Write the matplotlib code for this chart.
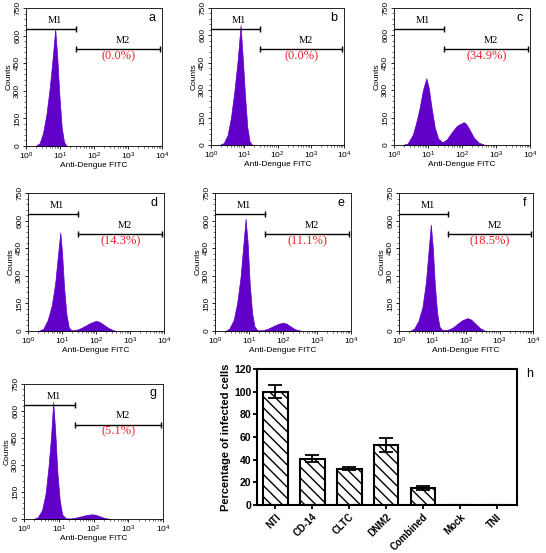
import numpy as np
import matplotlib
matplotlib.use("Agg")
import matplotlib.pyplot as plt
from matplotlib.ticker import AutoMinorLocator, LogLocator, NullFormatter

plt.rcParams["font.family"] = ["Liberation Sans", "DejaVu Sans"]
plt.rcParams["hatch.linewidth"] = 1.0

W, H = 546, 553

# histogram shapes, log10(FITC) vs counts
hist_x = {
    "a": [0.28, 0.40, 0.50, 0.60, 0.70, 0.78, 0.86, 0.92, 0.98, 1.05, 1.12, 1.20],
    "b": [0.25, 0.38, 0.50, 0.60, 0.70, 0.80, 0.89, 0.95, 1.02, 1.09, 1.16, 1.24],
    "c": [0.25, 0.40, 0.55, 0.65, 0.75, 0.85, 0.95, 1.02, 1.10, 1.20, 1.30, 1.42,
          1.55, 1.70, 1.85, 1.95, 2.05, 2.12, 2.22, 2.35, 2.50, 2.68],
    "d": [0.30, 0.45, 0.58, 0.70, 0.80, 0.88, 0.95, 1.00, 1.06, 1.13, 1.20, 1.28,
          1.40, 1.55, 1.70, 1.85, 2.00, 2.10, 2.22, 2.35, 2.50, 2.60],
    "e": [0.30, 0.42, 0.55, 0.65, 0.75, 0.83, 0.90, 0.96, 1.02, 1.09, 1.16, 1.25,
          1.40, 1.55, 1.70, 1.85, 2.00, 2.10, 2.22, 2.35, 2.55],
    "f": [0.32, 0.45, 0.58, 0.70, 0.80, 0.88, 0.95, 1.01, 1.07, 1.14, 1.21, 1.30,
          1.45, 1.60, 1.75, 1.90, 2.05, 2.15, 2.28, 2.42, 2.58],
    "g": [0.28, 0.40, 0.52, 0.62, 0.70, 0.78, 0.84, 0.90, 0.96, 1.03, 1.10, 1.20,
          1.35, 1.50, 1.65, 1.80, 1.95, 2.05, 2.18, 2.32, 2.48],
}
hist_y = {
    "a": [0, 15, 70, 170, 320, 470, 635, 480, 280, 100, 20, 0],
    "b": [0, 10, 55, 150, 290, 460, 655, 490, 280, 100, 20, 0],
    "c": [0, 8, 55, 120, 200, 300, 365, 315, 210, 95, 35, 15,
          30, 70, 105, 115, 125, 115, 85, 40, 12, 0],
    "d": [0, 12, 60, 140, 260, 410, 535, 430, 240, 90, 20, 4,
          5, 15, 30, 45, 55, 50, 35, 18, 5, 0],
    "e": [0, 12, 60, 150, 290, 460, 610, 480, 260, 100, 25, 4,
          4, 12, 25, 38, 45, 40, 25, 10, 0],
    "f": [0, 12, 55, 130, 260, 430, 578, 450, 250, 95, 22, 5,
          6, 18, 40, 60, 70, 62, 40, 15, 0],
    "g": [0, 10, 50, 140, 280, 460, 650, 480, 260, 100, 25, 4,
          3, 8, 15, 22, 26, 24, 15, 6, 0],
}
m2_pct = {"a": "(0.0%)", "b": "(0.0%)", "c": "(34.9%)", "d": "(14.3%)",
          "e": "(11.1%)", "f": "(18.5%)", "g": "(5.1%)"}

# bar chart (panel h)
categories = ["NTI", "CD-14", "CLTC", "DNM2", "Combined", "Mock", "TNI"]
values = [100, 41, 32, 53, 15, 0, 0]
errors = [6, 3, 1.2, 6, 1.5, 0, 0]

# pixel boxes: left, right, top, bottom
boxes = {
    "a": (26, 162, 8, 146), "b": (211, 344, 8, 145), "c": (394, 530, 8, 145),
    "d": (28, 164, 193, 331), "e": (215, 351, 193, 331), "f": (399, 533, 193, 331),
    "g": (24, 163, 384, 519),
}

def rect(l, r, t, b):
    return [l / W, 1 - b / H, (r - l) / W, (b - t) / H]

purple = "#6000c8"
fig = plt.figure(figsize=(W / 100, H / 100), dpi=100)

for key, (l, r, t, b) in boxes.items():
    ax = fig.add_axes(rect(l, r, t, b))
    x = 10 ** np.array(hist_x[key])
    ax.fill_between(x, hist_y[key], 0, color=purple, lw=0.5)
    ax.set_xscale("log")
    ax.set_xlim(1, 1e4)
    ax.set_ylim(0, 750)
    ax.set_yticks([0, 150, 300, 450, 600, 750])
    ax.yaxis.set_minor_locator(AutoMinorLocator(5))
    ax.xaxis.set_minor_locator(LogLocator(subs=np.arange(2, 10)))
    ax.xaxis.set_minor_formatter(NullFormatter())
    ax.tick_params(labelsize=6, length=2.5, width=0.6, pad=1)
    ax.tick_params(which="minor", length=1.2, width=0.4)
    for lab in ax.get_yticklabels():
        lab.set_rotation(90)
        lab.set_va("center")
    for s in ax.spines.values():
        s.set_linewidth(0.6)
    ax.set_ylabel("Counts", fontsize=6, labelpad=1)
    ax.set_xlabel("Anti-Dengue FITC", fontsize=6, labelpad=0)
    # gates
    g1 = 10 ** 1.47
    g2 = 10 ** 3.94
    ax.plot([1, g1], [635, 635], color="black", lw=1)
    ax.plot([g1], [635], marker="|", color="black", ms=4, mew=1)
    ax.plot([g1, g2], [525, 525], color="black", lw=1)
    ax.plot([g1, g2], [525, 525], marker="|", ls="none", color="black", ms=4, mew=1)
    ax.text(10 ** 0.85, 655, "M1", family="Liberation Serif", fontsize=7.5,
            ha="center", va="bottom")
    ax.text(10 ** 2.85, 550, "M2", family="Liberation Serif", fontsize=7.5,
            ha="center", va="bottom")
    ax.text(10 ** 2.72, 485, m2_pct[key], family="Liberation Serif", fontsize=9,
            color="#e8242a", ha="center", va="center")
    ax.text(0.95, 0.93, key, transform=ax.transAxes, fontsize=9, ha="right", va="center")

# panel h
ax = fig.add_axes(rect(257, 517, 369, 505))
pos = np.arange(len(categories))
ax.bar(pos, values, width=0.67, facecolor="white", edgecolor="black",
       lw=1.5, hatch="\\\\\\")
ax.errorbar(pos[:5], values[:5], yerr=errors[:5], fmt="none", ecolor="black",
            elinewidth=1.3, capsize=5, capthick=1.3)
ax.set_xlim(-0.5, 6.55)
ax.set_ylim(0, 120)
ax.set_yticks([0, 20, 40, 60, 80, 100, 120])
ax.set_xticks(pos)
ax.set_xticklabels(categories, rotation=45, ha="right", rotation_mode="anchor",
                   fontsize=7, fontweight="bold")
for lab in ax.get_yticklabels():
    lab.set_fontweight("bold")
ax.tick_params(axis="y", labelsize=7.5, length=3, width=1.3, pad=1)
ax.tick_params(axis="x", length=3, width=1.3, pad=2)
for s in ax.spines.values():
    s.set_linewidth(1.5)
ax.set_ylabel("Percentage of infected cells", fontsize=8, fontweight="bold", labelpad=2)
fig.text(530 / W, 1 - 374 / H, "h", fontsize=9, ha="center", va="center")

fig.savefig("out.png", dpi=100)
